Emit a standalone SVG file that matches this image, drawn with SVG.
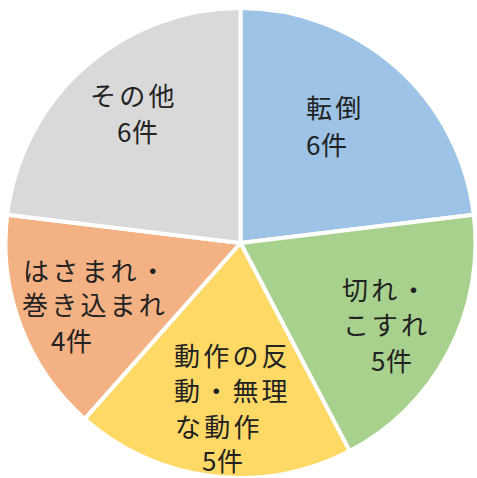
<svg xmlns="http://www.w3.org/2000/svg" width="477" height="478" viewBox="0 0 477 478">
<style>
.s{stroke:#fff;stroke-width:4;stroke-linejoin:round}
.t{font-family:"Noto Sans CJK JP","Noto Sans",sans-serif;font-size:26px;fill:#222;letter-spacing:3.2px}
.d{letter-spacing:0.5px}
</style>
<rect width="477" height="478" fill="#fff"/>
<g id="slice-tentou">
<path class="s" fill="#9DC3E6" d="M240.5,243 L240.5,8 A235,235 0 0 1 473.79,214.67 Z"/>
<text class="t" x="306" y="118">転倒</text>
<text class="t" x="306" y="155"><tspan class="d">6</tspan>件</text>
</g>
<g id="slice-kire">
<path class="s" fill="#A9D18E" d="M240.5,243 L473.79,214.67 A235,235 0 0 1 349.71,451.08 Z"/>
<text class="t" x="342" y="300">切れ・</text>
<text class="t" x="343" y="335">こすれ</text>
<text class="t" x="371" y="371"><tspan class="d">5</tspan>件</text>
</g>
<g id="slice-dousa">
<path class="s" fill="#FFD966" d="M240.5,243 L349.71,451.08 A235,235 0 0 1 84.67,418.9 Z"/>
<text class="t" x="174" y="366">動作の反</text>
<text class="t" x="174" y="401">動・無理</text>
<text class="t" x="175" y="437">な動作</text>
<text class="t" x="202" y="471"><tspan class="d">5</tspan>件</text>
</g>
<g id="slice-hasamare">
<path class="s" fill="#F4B183" d="M240.5,243 L84.67,418.9 A235,235 0 0 1 7.21,214.67 Z"/>
<text class="t" x="23" y="281">はさまれ・</text>
<text class="t" x="22" y="315">巻き込まれ</text>
<text class="t" x="51" y="351"><tspan class="d">4</tspan>件</text>
</g>
<g id="slice-sonota">
<path class="s" fill="#D9D9D9" d="M240.5,243 L7.21,214.67 A235,235 0 0 1 240.5,8 Z"/>
<text class="t" x="90" y="106">その他</text>
<text class="t" x="117" y="142"><tspan class="d">6</tspan>件</text>
</g>
<g id="connectors"/>
</svg>
